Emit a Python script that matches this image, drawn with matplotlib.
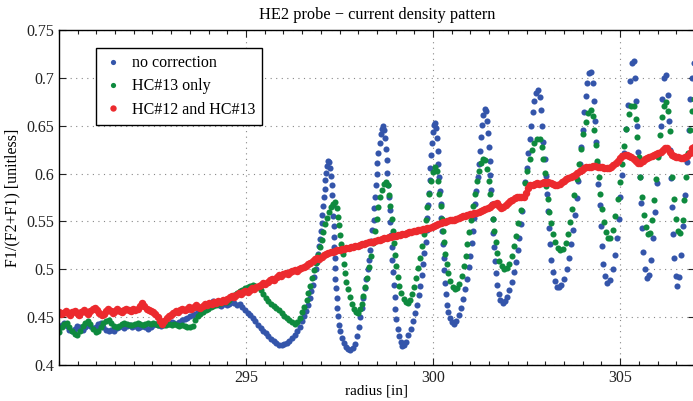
import numpy as np
import matplotlib
matplotlib.use("Agg")
import matplotlib.pyplot as plt
from matplotlib.ticker import MultipleLocator

plt.rcParams['font.family'] = ['Liberation Serif', 'DejaVu Serif']

# (radius, F1/(F2+F1))
no_correction = [
    (290.00,0.439),(290.07,0.442),(290.14,0.444),(290.21,0.441),(290.28,0.437),(290.35,0.435),(290.42,0.438),
    (290.49,0.441),(290.56,0.440),(290.63,0.437),(290.70,0.440),(290.77,0.443),(290.84,0.441),(290.91,0.439),
    (290.98,0.440),(291.05,0.443),(291.12,0.444),(291.19,0.440),(291.26,0.437),(291.33,0.436),(291.40,0.437),
    (291.47,0.436),(291.54,0.439),(291.61,0.440),(291.68,0.441),(291.75,0.439),(291.82,0.441),(291.89,0.442),
    (291.96,0.440),(292.03,0.441),(292.10,0.439),(292.17,0.440),(292.24,0.441),(292.31,0.440),(292.38,0.438),
    (292.45,0.440),(292.52,0.442),(292.59,0.443),(292.66,0.442),(292.73,0.441),(292.80,0.443),(292.87,0.444),
    (292.94,0.443),(293.01,0.445),(293.08,0.444),(293.15,0.443),(293.22,0.445),(293.29,0.447),(293.36,0.448),
    (293.43,0.449),(293.50,0.451),(293.57,0.452),(293.64,0.453),(293.71,0.455),(293.78,0.457),(293.85,0.459),
    (293.92,0.461),(293.99,0.463),(294.06,0.465),(294.13,0.467),(294.20,0.465),(294.27,0.463),(294.34,0.462),
    (294.41,0.464),(294.48,0.463),(294.55,0.464),(294.62,0.466),(294.69,0.465),(294.76,0.463),(294.83,0.464),
    (294.90,0.461),(294.97,0.457),(295.04,0.454),(295.11,0.452),(295.18,0.449),(295.25,0.446),(295.32,0.442),
    (295.39,0.439),(295.46,0.436),(295.53,0.433),(295.60,0.430),(295.67,0.427),(295.74,0.425),(295.81,0.423),
    (295.88,0.421),(295.95,0.421),(296.02,0.422),(296.09,0.423),(296.16,0.425),(296.23,0.428),(296.30,0.431),
    (296.37,0.435),(296.44,0.440),(296.50,0.446),(296.56,0.451),(296.61,0.456),(296.66,0.463),(296.70,0.470),
    (296.74,0.477),(296.78,0.484),(296.82,0.492),(296.86,0.500),(296.89,0.508),(296.92,0.516),(296.95,0.524),
    (296.98,0.532),(297.00,0.540),(297.02,0.548),(297.04,0.557),(297.06,0.566),(297.08,0.575),(297.10,0.584),
    (297.12,0.593),(297.14,0.601),(297.16,0.608),(297.19,0.613),(297.22,0.612),(297.24,0.606),(297.27,0.597),
    (297.29,0.588),(297.31,0.578),(297.32,0.567),(297.33,0.556),(297.34,0.545),(297.35,0.534),(297.36,0.523),
    (297.37,0.512),(297.38,0.501),(297.39,0.490),(297.40,0.480),(297.42,0.470),(297.44,0.460),(297.46,0.451),
    (297.49,0.442),(297.52,0.435),(297.56,0.428),(297.61,0.423),(297.67,0.419),(297.73,0.417),(297.79,0.416),
    (297.85,0.418),(297.91,0.422),(297.96,0.430),(298.01,0.440),(298.06,0.450),(298.10,0.460),(298.14,0.470),
    (298.18,0.480),(298.22,0.490),(298.26,0.500),(298.29,0.510),(298.32,0.520),(298.35,0.530),(298.38,0.541),
    (298.41,0.552),(298.43,0.564),(298.45,0.576),(298.47,0.588),(298.49,0.600),(298.51,0.611),(298.54,0.622),
    (298.57,0.632),(298.60,0.641),(298.63,0.647),(298.66,0.650),(298.69,0.646),(298.72,0.637),(298.74,0.626),
    (298.76,0.614),(298.78,0.601),(298.80,0.588),(298.82,0.575),(298.84,0.562),(298.86,0.549),(298.88,0.536),
    (298.90,0.523),(298.91,0.510),(298.93,0.497),(298.95,0.484),(298.97,0.471),(298.99,0.459),(299.02,0.448),
    (299.05,0.438),(299.09,0.430),(299.13,0.424),(299.18,0.420),(299.23,0.421),(299.28,0.424),(299.34,0.431),
    (299.40,0.438),(299.46,0.446),(299.52,0.454),(299.57,0.463),(299.62,0.473),(299.66,0.483),(299.70,0.494),
    (299.74,0.505),(299.77,0.517),(299.80,0.529),(299.83,0.541),(299.85,0.554),(299.87,0.567),(299.89,0.580),
    (299.91,0.593),(299.93,0.606),(299.95,0.619),(299.97,0.632),(299.99,0.643),(300.02,0.651),(300.05,0.653),
    (300.08,0.648),(300.10,0.637),(300.12,0.624),(300.14,0.610),(300.16,0.596),(300.18,0.582),(300.20,0.568),
    (300.22,0.554),(300.24,0.540),(300.26,0.526),(300.28,0.512),(300.30,0.499),(300.32,0.486),(300.35,0.474),
    (300.38,0.463),(300.41,0.455),(300.45,0.449),(300.50,0.445),(300.56,0.443),(300.62,0.446),(300.68,0.452),
    (300.74,0.460),(300.80,0.469),(300.85,0.479),(300.90,0.490),(300.95,0.502),(300.99,0.514),(301.03,0.527),
    (301.07,0.540),(301.10,0.554),(301.13,0.568),(301.16,0.582),(301.19,0.596),(301.22,0.610),(301.25,0.624),
    (301.28,0.638),(301.31,0.651),(301.34,0.661),(301.38,0.667),(301.42,0.665),(301.45,0.655),(301.47,0.642),
    (301.49,0.628),(301.51,0.613),(301.53,0.598),(301.55,0.583),(301.57,0.568),(301.59,0.553),(301.61,0.538),
    (301.63,0.523),(301.65,0.509),(301.68,0.496),(301.71,0.484),(301.75,0.474),(301.80,0.468),(301.86,0.465),
    (301.92,0.467),(301.98,0.471),(302.04,0.478),(302.10,0.487),(302.16,0.497),(302.21,0.508),(302.26,0.520),
    (302.31,0.533),(302.35,0.547),(302.39,0.561),(302.43,0.576),(302.47,0.591),(302.51,0.606),(302.55,0.621),
    (302.59,0.636),(302.63,0.650),(302.67,0.664),(302.71,0.676),(302.76,0.684),(302.81,0.687),(302.86,0.680),
    (302.89,0.666),(302.92,0.650),(302.95,0.633),(302.98,0.615),(303.01,0.597),(303.04,0.579),(303.07,0.561),
    (303.10,0.543),(303.13,0.526),(303.16,0.510),(303.20,0.497),(303.25,0.488),(303.31,0.482),(303.37,0.481),
    (303.43,0.484),(303.50,0.490),(303.57,0.500),(303.63,0.512),(303.69,0.526),(303.74,0.541),(303.79,0.557),
    (303.84,0.574),(303.88,0.592),(303.92,0.610),(303.96,0.628),(304.00,0.646),(304.04,0.664),(304.08,0.681),
    (304.12,0.695),(304.17,0.705),(304.22,0.706),(304.27,0.695),(304.30,0.676),(304.33,0.655),(304.36,0.633),
    (304.39,0.611),(304.42,0.589),(304.45,0.567),(304.48,0.545),(304.51,0.524),(304.55,0.506),(304.60,0.493),
    (304.66,0.486),(304.72,0.489),(304.80,0.500),(304.86,0.515),(304.91,0.533),(304.96,0.553),(305.01,0.575),
    (305.06,0.598),(305.11,0.622),(305.16,0.647),(305.21,0.672),(305.26,0.697),(305.31,0.716),(305.36,0.718),
    (305.40,0.700),(305.43,0.676),(305.46,0.650),(305.49,0.623),(305.52,0.596),(305.55,0.569),(305.58,0.543),
    (305.62,0.518),(305.66,0.500),(305.71,0.491),(305.77,0.494),(305.83,0.510),(305.88,0.533),(305.93,0.560),
    (305.98,0.590),(306.03,0.620),(306.08,0.650),(306.13,0.678),(306.18,0.700),(306.23,0.703),(306.27,0.682),
    (306.30,0.655),(306.33,0.625),(306.36,0.595),(306.39,0.565),(306.42,0.537),(306.45,0.512),(306.49,0.493),
    (306.53,0.483),(306.58,0.492),(306.63,0.515),(306.68,0.545),(306.73,0.578),(306.78,0.612),(306.83,0.645),
    (306.88,0.678),(306.93,0.700),(306.98,0.715),
]

hc13_only = [
    (290.00,0.434),(290.07,0.440),(290.14,0.443),(290.21,0.444),(290.28,0.440),(290.35,0.436),(290.42,0.432),
    (290.49,0.431),(290.56,0.436),(290.63,0.441),(290.70,0.444),(290.77,0.446),(290.84,0.443),(290.91,0.438),
    (290.98,0.434),(291.05,0.436),(291.12,0.440),(291.19,0.444),(291.26,0.446),(291.33,0.447),(291.40,0.444),
    (291.47,0.441),(291.54,0.440),(291.61,0.441),(291.68,0.443),(291.75,0.444),(291.82,0.443),(291.89,0.442),
    (291.96,0.442),(292.03,0.443),(292.10,0.444),(292.17,0.443),(292.24,0.442),(292.31,0.443),(292.38,0.444),
    (292.45,0.443),(292.52,0.444),(292.59,0.443),(292.66,0.442),(292.73,0.443),(292.80,0.442),(292.87,0.442),
    (292.94,0.443),(293.01,0.442),(293.08,0.443),(293.15,0.442),(293.22,0.441),(293.29,0.442),(293.36,0.441),
    (293.43,0.440),(293.50,0.440),(293.57,0.441),(293.64,0.447),(293.71,0.451),(293.78,0.453),(293.85,0.455),
    (293.92,0.457),(293.99,0.459),(294.06,0.461),(294.13,0.462),(294.20,0.463),(294.27,0.464),(294.34,0.465),
    (294.41,0.466),(294.48,0.466),(294.55,0.468),(294.62,0.471),(294.69,0.473),(294.76,0.475),(294.83,0.477),
    (294.90,0.478),(294.97,0.480),(295.04,0.482),(295.11,0.483),(295.18,0.484),(295.25,0.483),(295.32,0.481),
    (295.39,0.478),(295.46,0.474),(295.53,0.470),(295.60,0.467),(295.67,0.464),(295.74,0.462),(295.81,0.460),
    (295.88,0.457),(295.95,0.454),(296.02,0.451),(296.09,0.449),(296.16,0.447),(296.23,0.445),(296.30,0.443),
    (296.37,0.445),(296.44,0.449),(296.50,0.455),(296.56,0.461),(296.62,0.468),(296.67,0.475),(296.72,0.483),
    (296.77,0.491),(296.82,0.499),(296.87,0.507),(296.92,0.515),(296.97,0.523),(297.02,0.531),(297.07,0.539),
    (297.12,0.547),(297.17,0.554),(297.22,0.560),(297.27,0.565),(297.32,0.568),(297.38,0.570),(297.43,0.564),
    (297.46,0.555),(297.49,0.546),(297.52,0.536),(297.55,0.526),(297.58,0.516),(297.61,0.506),(297.64,0.496),
    (297.68,0.487),(297.72,0.479),(297.77,0.471),(297.82,0.464),(297.88,0.459),(297.94,0.455),(298.00,0.454),
    (298.05,0.458),(298.09,0.464),(298.14,0.472),(298.19,0.481),(298.24,0.491),(298.29,0.502),(298.34,0.514),
    (298.39,0.527),(298.44,0.540),(298.49,0.553),(298.54,0.565),(298.59,0.575),(298.64,0.583),(298.69,0.589),
    (298.74,0.591),(298.79,0.588),(298.83,0.578),(298.86,0.566),(298.89,0.553),(298.92,0.540),(298.95,0.527),
    (298.98,0.515),(299.02,0.503),(299.06,0.492),(299.10,0.483),(299.15,0.475),(299.21,0.469),(299.27,0.466),
    (299.33,0.465),(299.39,0.468),(299.45,0.474),(299.50,0.482),(299.55,0.491),(299.60,0.501),(299.65,0.512),
    (299.70,0.524),(299.75,0.537),(299.80,0.551),(299.85,0.565),(299.90,0.579),(299.95,0.592),(300.00,0.602),
    (300.05,0.607),(300.10,0.603),(300.14,0.592),(300.17,0.579),(300.20,0.566),(300.23,0.553),(300.26,0.540),
    (300.29,0.528),(300.33,0.516),(300.37,0.505),(300.41,0.496),(300.46,0.488),(300.52,0.482),(300.58,0.479),
    (300.64,0.480),(300.70,0.485),(300.76,0.493),(300.82,0.503),(300.87,0.514),(300.92,0.526),(300.97,0.539),
    (301.02,0.552),(301.07,0.566),(301.12,0.579),(301.17,0.592),(301.22,0.603),(301.28,0.611),(301.34,0.615),
    (301.40,0.614),(301.45,0.605),(301.49,0.592),(301.52,0.579),(301.55,0.566),(301.59,0.553),(301.63,0.540),
    (301.67,0.528),(301.72,0.517),(301.77,0.509),(301.83,0.503),(301.90,0.500),(301.97,0.501),(302.04,0.506),
    (302.10,0.514),(302.16,0.524),(302.22,0.535),(302.28,0.548),(302.34,0.562),(302.40,0.576),(302.46,0.590),
    (302.52,0.603),(302.58,0.615),(302.64,0.625),(302.71,0.632),(302.78,0.636),(302.85,0.636),(302.91,0.628),
    (302.95,0.615),(302.99,0.601),(303.03,0.587),(303.07,0.573),(303.11,0.560),(303.15,0.548),(303.20,0.537),
    (303.26,0.528),(303.33,0.522),(303.40,0.520),(303.47,0.521),(303.54,0.527),(303.60,0.537),(303.66,0.549),
    (303.72,0.563),(303.78,0.578),(303.84,0.594),(303.90,0.610),(303.96,0.626),(304.02,0.641),(304.08,0.654),
    (304.14,0.663),(304.21,0.666),(304.27,0.660),(304.31,0.646),(304.35,0.630),(304.39,0.613),(304.43,0.596),
    (304.47,0.579),(304.51,0.563),(304.56,0.549),(304.62,0.539),(304.68,0.533),(304.74,0.533),(304.81,0.541),
    (304.87,0.556),(304.93,0.573),(304.99,0.591),(305.05,0.610),(305.11,0.629),(305.17,0.647),(305.23,0.662),
    (305.30,0.671),(305.37,0.671),(305.42,0.657),(305.46,0.638),(305.50,0.617),(305.54,0.596),(305.58,0.576),
    (305.63,0.557),(305.68,0.544),(305.74,0.537),(305.80,0.538),(305.86,0.552),(305.91,0.572),(305.96,0.594),
    (306.01,0.617),(306.06,0.640),(306.11,0.659),(306.17,0.671),(306.23,0.675),(306.28,0.665),(306.32,0.644),
    (306.36,0.620),(306.40,0.596),(306.44,0.573),(306.49,0.553),(306.55,0.540),(306.61,0.538),(306.67,0.552),
    (306.72,0.572),(306.77,0.596),(306.82,0.621),(306.87,0.645),(306.92,0.665),(306.97,0.678),
]

hc12_hc13 = [
    (290.00,0.455),(290.06,0.453),(290.12,0.454),(290.18,0.456),(290.24,0.454),(290.30,0.452),(290.36,0.455),
    (290.42,0.456),(290.48,0.454),(290.54,0.452),(290.60,0.455),(290.66,0.457),(290.72,0.455),(290.78,0.453),
    (290.84,0.456),(290.90,0.458),(290.96,0.460),(291.02,0.457),(291.08,0.454),(291.14,0.452),(291.20,0.453),
    (291.26,0.456),(291.32,0.458),(291.38,0.456),(291.44,0.454),(291.50,0.456),(291.56,0.458),(291.62,0.456),
    (291.68,0.455),(291.74,0.457),(291.80,0.459),(291.86,0.457),(291.92,0.456),(291.98,0.458),(292.04,0.457),
    (292.10,0.459),(292.16,0.462),(292.22,0.465),(292.28,0.462),(292.34,0.458),(292.40,0.457),(292.46,0.456),
    (292.52,0.455),(292.58,0.453),(292.64,0.450),(292.70,0.446),(292.76,0.443),(292.82,0.446),(292.88,0.449),
    (292.94,0.451),(293.00,0.452),(293.06,0.454),(293.12,0.456),(293.18,0.455),(293.24,0.457),(293.30,0.459),
    (293.36,0.457),(293.42,0.459),(293.48,0.461),(293.54,0.459),(293.60,0.461),(293.66,0.463),(293.72,0.461),
    (293.78,0.460),(293.84,0.462),(293.90,0.464),(293.96,0.463),(294.02,0.465),(294.08,0.464),(294.14,0.466),
    (294.20,0.465),(294.26,0.467),(294.32,0.466),(294.38,0.468),(294.44,0.467),(294.50,0.469),(294.56,0.471),
    (294.62,0.472),(294.68,0.471),(294.74,0.473),(294.80,0.475),(294.86,0.474),(294.92,0.476),(294.98,0.477),
    (295.04,0.476),(295.10,0.478),(295.16,0.480),(295.22,0.479),(295.28,0.481),(295.34,0.483),(295.40,0.484),
    (295.46,0.486),(295.52,0.485),(295.58,0.487),(295.64,0.489),(295.70,0.490),(295.76,0.489),(295.82,0.492),
    (295.88,0.494),(295.94,0.493),(296.00,0.495),(296.06,0.496),(296.12,0.495),(296.18,0.497),(296.24,0.498),
    (296.30,0.499),(296.36,0.498),(296.42,0.500),(296.48,0.501),(296.54,0.502),(296.60,0.503),(296.66,0.505),
    (296.72,0.507),(296.78,0.509),(296.84,0.511),(296.90,0.512),(296.96,0.511),(297.02,0.513),(297.08,0.515),
    (297.14,0.516),(297.20,0.517),(297.26,0.518),(297.32,0.518),(297.38,0.519),(297.44,0.520),(297.50,0.520),
    (297.56,0.521),(297.62,0.521),(297.68,0.522),(297.74,0.522),(297.80,0.523),(297.86,0.523),(297.92,0.524),
    (297.98,0.524),(298.04,0.525),(298.10,0.526),(298.16,0.526),(298.22,0.527),(298.28,0.528),(298.34,0.528),
    (298.40,0.529),(298.46,0.530),(298.52,0.531),(298.58,0.531),(298.64,0.532),(298.70,0.533),(298.76,0.533),
    (298.82,0.534),(298.88,0.534),(298.94,0.535),(299.00,0.535),(299.06,0.536),(299.12,0.536),(299.18,0.537),
    (299.24,0.537),(299.30,0.538),(299.36,0.539),(299.42,0.539),(299.48,0.540),(299.54,0.540),(299.60,0.541),
    (299.66,0.541),(299.72,0.542),(299.78,0.542),(299.84,0.543),(299.90,0.543),(299.96,0.544),(300.02,0.545),
    (300.08,0.546),(300.14,0.547),(300.20,0.548),(300.26,0.549),(300.32,0.549),(300.38,0.550),(300.44,0.551),
    (300.50,0.552),(300.56,0.552),(300.62,0.553),(300.68,0.554),(300.74,0.555),(300.80,0.556),(300.86,0.556),
    (300.92,0.557),(300.98,0.558),(301.04,0.558),(301.10,0.559),(301.16,0.559),(301.22,0.560),(301.28,0.561),
    (301.34,0.562),(301.40,0.563),(301.46,0.564),(301.52,0.565),(301.58,0.567),(301.64,0.568),(301.70,0.569),
    (301.76,0.566),(301.82,0.564),(301.88,0.565),(301.94,0.567),(302.00,0.569),(302.06,0.571),(302.12,0.572),
    (302.18,0.574),(302.24,0.575),(302.30,0.576),(302.36,0.575),(302.42,0.576),(302.48,0.580),(302.54,0.585),
    (302.60,0.588),(302.66,0.588),(302.72,0.589),(302.78,0.590),(302.84,0.589),(302.90,0.590),(302.96,0.591),
    (303.02,0.590),(303.08,0.591),(303.14,0.590),(303.20,0.589),(303.26,0.588),(303.32,0.588),(303.38,0.589),
    (303.44,0.591),(303.50,0.592),(303.56,0.594),(303.62,0.595),(303.68,0.596),(303.74,0.597),(303.80,0.599),
    (303.86,0.601),(303.92,0.603),(303.98,0.604),(304.04,0.606),(304.10,0.607),(304.16,0.607),(304.22,0.607),
    (304.28,0.608),(304.34,0.608),(304.40,0.607),(304.46,0.607),(304.52,0.607),(304.58,0.606),(304.64,0.606),
    (304.70,0.606),(304.76,0.607),(304.82,0.609),(304.88,0.611),(304.94,0.613),(305.00,0.616),(305.06,0.618),
    (305.12,0.619),(305.18,0.619),(305.24,0.618),(305.30,0.617),(305.36,0.615),(305.42,0.613),(305.48,0.611),
    (305.54,0.611),(305.60,0.613),(305.66,0.615),(305.72,0.616),(305.78,0.617),(305.84,0.618),(305.90,0.619),
    (305.96,0.620),(306.02,0.621),(306.08,0.623),(306.14,0.625),(306.20,0.627),(306.26,0.627),(306.32,0.623),
    (306.38,0.619),(306.44,0.618),(306.50,0.617),(306.56,0.617),(306.62,0.616),(306.68,0.616),(306.74,0.617),
    (306.80,0.618),(306.86,0.622),(306.92,0.627),(306.98,0.628),
]

labels = ['no correction', 'HC#13 only', 'HC#12 and HC#13']
colors = ['#3455aa', '#0e8a3e', '#ec2a2e']
x_ticks = [295, 300, 305]
y_ticks = [0.4, 0.45, 0.5, 0.55, 0.6, 0.65, 0.7, 0.75]
y_tick_labels = ['0.4', '0.45', '0.5', '0.55', '0.6', '0.65', '0.7', '0.75']

fig = plt.figure(figsize=(6.93, 4.01), dpi=100)
ax = fig.add_axes([0.0851, 0.0898, 0.9177, 0.8354])

for pts, lab, col, ms in zip([no_correction, hc13_only, hc12_hc13], labels, colors, [4.4, 4.4, 5.4]):
    xy = np.array(pts)
    ax.plot(xy[:, 0], xy[:, 1], 'o', color=col, ms=ms, mew=0, label=lab)

ax.set_xlim(290, 307)
ax.set_ylim(0.4, 0.75)
ax.set_xticks(x_ticks)
ax.xaxis.set_minor_locator(MultipleLocator(0.5))
ax.set_yticks(y_ticks)
ax.set_yticklabels(y_tick_labels)
ax.tick_params(which='both', direction='in', top=True, right=True, labelsize=11.5, colors='#222222')
ax.tick_params(which='major', length=5, width=0.8)
ax.tick_params(which='minor', length=3, width=0.8)
ax.tick_params(axis='x', pad=3.5)
ax.grid(True, which='major', linestyle=(0, (1, 4)), color='#888888', linewidth=0.8)
for s in ax.spines.values():
    s.set_linewidth(1.0)

ax.set_title('HE2 probe \u2212 current density pattern', fontsize=11.8, pad=8)
ax.set_xlabel('radius [in]', fontsize=11, labelpad=-1)
ax.set_ylabel('F1/(F2+F1) [unitless]', fontsize=11.5, labelpad=4)

leg = ax.legend(loc='upper left', bbox_to_anchor=(0.058, 0.946), borderaxespad=0, fontsize=11.5,
                fancybox=False, framealpha=1, edgecolor='black', markerscale=0.85, handletextpad=0.6,
                handlelength=1.2, borderpad=0.45, labelspacing=0.45)
leg.get_frame().set_linewidth(1.0)

fig.savefig('out.png', dpi=100)
